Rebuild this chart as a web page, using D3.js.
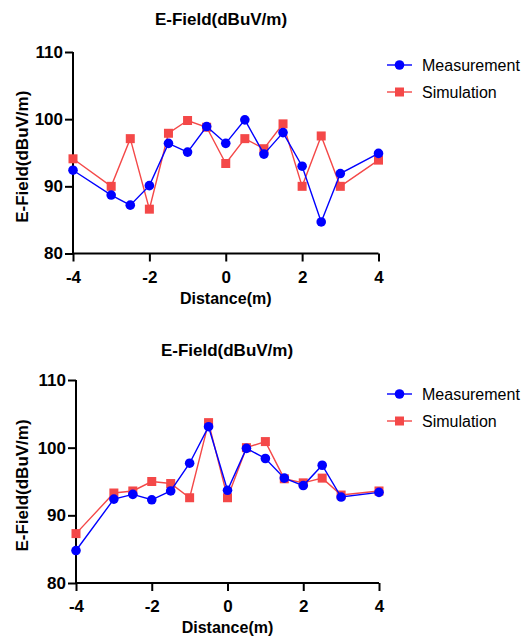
<!DOCTYPE html>
<html>
<head>
<meta charset="utf-8">
<script src="https://cdn.jsdelivr.net/npm/d3@7"></script>
<style>
  body { margin: 0; background: #fff; }
  svg { display: block; font-family: "Liberation Sans", Arial, sans-serif; }
</style>
</head>
<body>
<svg id="chart" width="531" height="636"></svg>
<script>
// distances (m)
var distance = [-4, -3, -2.5, -2, -1.5, -1, -0.5, 0, 0.5, 1, 1.5, 2, 2.5, 3, 4]

// top panel
var measTop = [92.4, 88.7, 87.2, 90.1, 96.4, 95.1, 98.9, 96.4, 99.9, 94.8, 98.0, 93.0, 84.7, 91.9, 94.9]
var simTop  = [94.1, 90.0, 97.1, 86.6, 97.9, 99.8, 98.8, 93.4, 97.1, 95.6, 99.3, 90.0, 97.5, 90.0, 93.9]

// bottom panel
var measBot = [84.8, 92.4, 93.1, 92.3, 93.6, 97.7, 103.1, 93.7, 99.9, 98.4, 95.5, 94.4, 97.4, 92.7, 93.4]
var simBot  = [87.3, 93.3, 93.6, 95.0, 94.7, 92.6, 103.7, 92.6, 100.0, 100.9, 95.4, 94.8, 95.5, 93.0, 93.6]

var xTicks = [-4, -2, 0, 2, 4]
var yTicks = [80, 90, 100, 110]
var seriesNames = ["Measurement", "Simulation"]

var title = "E-Field(dBuV/m)"
var xLabel = "Distance(m)"
var yLabel = "E-Field(dBuV/m)"

var blue = "#0000ff", red = "#f44848"

var svg = d3.select("#chart")

function panel(meas, sim, box) {
	var x = d3.scaleLinear().domain([-4, 4]).range([box.left, box.right])
	var y = d3.scaleLinear().domain([80, 110]).range([box.bottom, box.top])
	var g = svg.append("g")

	g.append("text")
		.attr("x", box.titleX).attr("y", box.titleY)
		.attr("text-anchor", "middle")
		.attr("font-size", 17).attr("font-weight", "bold")
		.text(title)

	var xa = g.append("g")
		.attr("transform", "translate(0," + box.bottom + ")")
		.call(d3.axisBottom(x).tickValues(xTicks).tickSize(8).tickPadding(9).tickFormat(d3.format("d")))
	var ya = g.append("g")
		.attr("transform", "translate(" + box.left + ",0)")
		.call(d3.axisLeft(y).tickValues(yTicks).tickSize(8).tickPadding(2))
	;[xa, ya].forEach(function(a) {
		a.selectAll("path, line").attr("stroke", "#000").attr("stroke-width", 2)
		a.select(".domain").attr("d", a === xa
			? "M" + box.left + ",0H" + box.right
			: "M0," + box.top + "V" + box.bottom)
		a.selectAll("text").attr("fill", "#000").attr("font-size", 17).attr("font-weight", "bold")
			.attr("font-family", "Liberation Sans, Arial, sans-serif")
	})
	xa.selectAll("text").text(function(d) { return d < 0 ? "-" + Math.abs(d) : d })

	g.append("text")
		.attr("x", (box.left + box.right) / 2).attr("y", box.bottom + 50)
		.attr("text-anchor", "middle")
		.attr("font-size", 16).attr("font-weight", "bold")
		.text(xLabel)

	g.append("text")
		.attr("transform", "translate(" + 28 + "," + ((box.top + box.bottom) / 2 + 4) + ") rotate(-90)")
		.attr("text-anchor", "middle")
		.attr("font-size", 17).attr("font-weight", "bold")
		.text(yLabel)

	var line = d3.line().x(function(d, i) { return x(distance[i]) }).y(function(d) { return y(d) })

	// simulation underneath
	g.append("path").datum(sim).attr("d", line)
		.attr("fill", "none").attr("stroke", red).attr("stroke-width", 1.4)
	g.selectAll(".sq").data(sim).enter().append("rect")
		.attr("x", function(d, i) { return x(distance[i]) - 4.5 })
		.attr("y", function(d) { return y(d) - 4.5 })
		.attr("width", 9).attr("height", 9).attr("fill", red)

	g.append("path").datum(meas).attr("d", line)
		.attr("fill", "none").attr("stroke", blue).attr("stroke-width", 1.4)
	g.selectAll(".dot").data(meas).enter().append("circle")
		.attr("cx", function(d, i) { return x(distance[i]) })
		.attr("cy", function(d) { return y(d) })
		.attr("r", 4.8).attr("fill", blue)

	// legend
	var leg = g.selectAll(".leg").data(seriesNames).enter().append("g")
		.attr("transform", function(d, i) { return "translate(387," + (box.legendY + i * 27) + ")" })
	leg.append("line").attr("x1", 0).attr("x2", 25)
		.attr("stroke", function(d, i) { return i ? red : blue }).attr("stroke-width", 1.4)
	leg.filter(function(d, i) { return i === 0 }).append("circle")
		.attr("cx", 12.5).attr("r", 4.8).attr("fill", blue)
	leg.filter(function(d, i) { return i === 1 }).append("rect")
		.attr("x", 8).attr("y", -4.5).attr("width", 9).attr("height", 9).attr("fill", red)
	leg.append("text").attr("x", 35).attr("dy", "0.35em")
		.attr("font-size", 16).text(function(d) { return d })
}

panel(measTop, simTop, { left: 73, right: 378.5, top: 52, bottom: 253.5, titleX: 221, titleY: 25, legendY: 65 })
panel(measBot, simBot, { left: 76, right: 379, top: 380, bottom: 583, titleX: 227, titleY: 356, legendY: 394 })
</script>
</body>
</html>
